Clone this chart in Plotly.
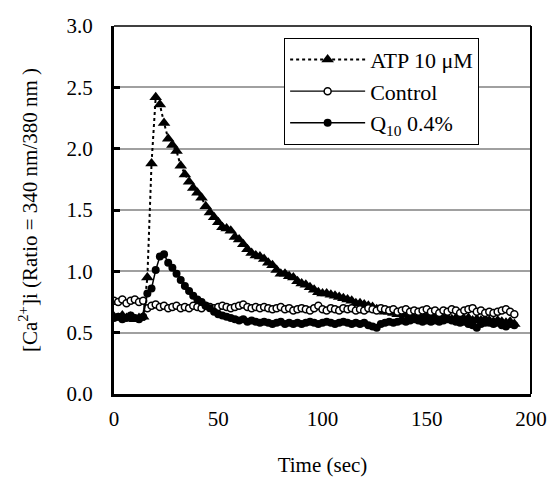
import plotly.graph_objects as go

time_sec = list(range(0, 194, 2))

atp = [0.63, 0.62, 0.64, 0.62, 0.63, 0.61, 0.62, 0.63,
       0.95, 1.88, 2.42, 2.36, 2.21, 2.08, 2.03, 1.98, 1.86, 1.79, 1.73, 1.68,
       1.64, 1.60, 1.53, 1.48, 1.44, 1.40, 1.36, 1.35, 1.33, 1.28,
       1.26, 1.22, 1.18, 1.15, 1.13, 1.12, 1.10, 1.07, 1.05, 1.01,
       0.98, 0.98, 0.96, 0.95, 0.92, 0.90, 0.89, 0.87, 0.85, 0.83,
       0.82, 0.82, 0.81, 0.80, 0.79, 0.78, 0.77, 0.76, 0.74, 0.74,
       0.73, 0.72, 0.71, 0.69, 0.68, 0.67, 0.67, 0.66, 0.65, 0.66,
       0.65, 0.64, 0.65, 0.63, 0.64, 0.63, 0.62, 0.63, 0.62, 0.63,
       0.62, 0.61, 0.62, 0.62, 0.61, 0.62, 0.60, 0.61, 0.60, 0.61,
       0.60, 0.59, 0.60, 0.59, 0.58, 0.59, 0.57]

control = [0.76, 0.75, 0.77, 0.74, 0.76, 0.77, 0.75, 0.76,
           0.70, 0.72, 0.73, 0.71, 0.72, 0.70, 0.71, 0.72, 0.70, 0.71, 0.70, 0.72,
           0.71, 0.70, 0.72, 0.71, 0.70, 0.71, 0.72, 0.71, 0.70, 0.71,
           0.72, 0.73, 0.71, 0.70, 0.71, 0.70, 0.71, 0.70, 0.69, 0.70,
           0.71, 0.69, 0.70, 0.68, 0.69, 0.70, 0.69, 0.68, 0.70, 0.72,
           0.69, 0.68, 0.70, 0.69, 0.68, 0.70, 0.69, 0.70, 0.68, 0.69,
           0.68, 0.70, 0.69, 0.68, 0.70, 0.69, 0.68, 0.69, 0.67, 0.68,
           0.69, 0.67, 0.68, 0.67, 0.68, 0.69, 0.67, 0.68, 0.66, 0.68,
           0.67, 0.69, 0.68, 0.66, 0.68, 0.69, 0.70, 0.67, 0.68, 0.66,
           0.67, 0.66, 0.67, 0.68, 0.69, 0.67, 0.65]

q10 = [0.62, 0.63, 0.61, 0.62, 0.64, 0.62, 0.61, 0.63,
       0.82, 0.86, 1.01, 1.12, 1.14, 1.07, 1.03, 0.98, 0.93, 0.88, 0.84, 0.80,
       0.77, 0.75, 0.72, 0.70, 0.67, 0.65, 0.64, 0.63, 0.62, 0.61,
       0.60, 0.61, 0.59, 0.60, 0.59, 0.58, 0.59, 0.58, 0.57, 0.58,
       0.59, 0.57, 0.58, 0.57, 0.58, 0.57, 0.58, 0.59, 0.58, 0.57,
       0.58, 0.59, 0.58, 0.57, 0.58, 0.59, 0.58, 0.57, 0.58, 0.57,
       0.58, 0.56, 0.55, 0.54, 0.57, 0.58, 0.59, 0.58, 0.59, 0.60,
       0.59, 0.60, 0.61, 0.60, 0.59, 0.60, 0.59, 0.60, 0.59, 0.60,
       0.61, 0.60, 0.59, 0.58, 0.59, 0.57, 0.56, 0.54, 0.57, 0.58,
       0.58, 0.57, 0.58, 0.56, 0.55, 0.57, 0.56]

x_ticks = [0, 50, 100, 150, 200]
y_ticks = [0.0, 0.5, 1.0, 1.5, 2.0, 2.5, 3.0]

FONT = "Liberation Serif"
TICKFONT = dict(family=FONT, size=21, color="black")

fig = go.Figure()
fig.add_trace(go.Scatter(
    x=time_sec, y=atp, name="ATP 10 μM", mode="lines+markers",
    line=dict(color="black", width=2, dash="dot"),
    marker=dict(symbol="triangle-up", size=11, color="black")))
fig.add_trace(go.Scatter(
    x=time_sec, y=control, name="Control", mode="lines+markers",
    line=dict(color="black", width=1.2),
    marker=dict(symbol="circle", size=7, color="white",
                line=dict(color="black", width=1.5))))
fig.add_trace(go.Scatter(
    x=time_sec, y=q10, name="Q<sub>10</sub> 0.4%", mode="lines+markers",
    line=dict(color="black", width=1.5),
    marker=dict(symbol="circle", size=8, color="black")))

fig.update_layout(
    width=553, height=490,
    margin=dict(l=114, r=22, t=26, b=96, autoexpand=False),
    paper_bgcolor="white", plot_bgcolor="white",
    font=dict(family=FONT, size=21, color="black"),
    showlegend=True,
    legend=dict(x=0.408, y=0.968, xanchor="left", yanchor="top",
                bgcolor="white", bordercolor="black", borderwidth=1,
                font=dict(family=FONT, size=22, color="black"),
                itemwidth=75, tracegroupgap=0),
    xaxis=dict(range=[0, 200], tickvals=x_ticks, showgrid=False,
               zeroline=False, showline=True, linecolor="black", linewidth=3,
               ticks="", ticklabelstandoff=4, tickfont=TICKFONT,
               automargin=False,
               title=dict(text="Time (sec)", standoff=28,
                          font=dict(family=FONT, size=21))),
    yaxis=dict(range=[0, 3], tickvals=y_ticks, tickformat=".1f",
               showgrid=True, gridcolor="#a0a0a0", gridwidth=1.5,
               zeroline=False, showline=True, linecolor="black", linewidth=3,
               ticks="inside", ticklen=6, tickwidth=3, tickcolor="black",
               ticklabelstandoff=14, tickfont=TICKFONT, automargin=False,
               title=dict(text="[Ca<sup>2+</sup>]i (Ratio = 340 nm/380 nm )",
                          standoff=24, font=dict(family=FONT, size=21))),
)

fig.add_shape(type="line", xref="x domain", yref="y domain",
              x0=0, x1=1, y0=1, y1=1, line=dict(color="black", width=1.5))
fig.add_shape(type="line", xref="x domain", yref="y domain",
              x0=1, x1=1, y0=0, y1=1, line=dict(color="black", width=2))

fig.write_html("out.html",
               config={"displayModeBar": False},
               post_script="document.body.style.margin='0px';"
                           "document.body.style.overflow='hidden';")
